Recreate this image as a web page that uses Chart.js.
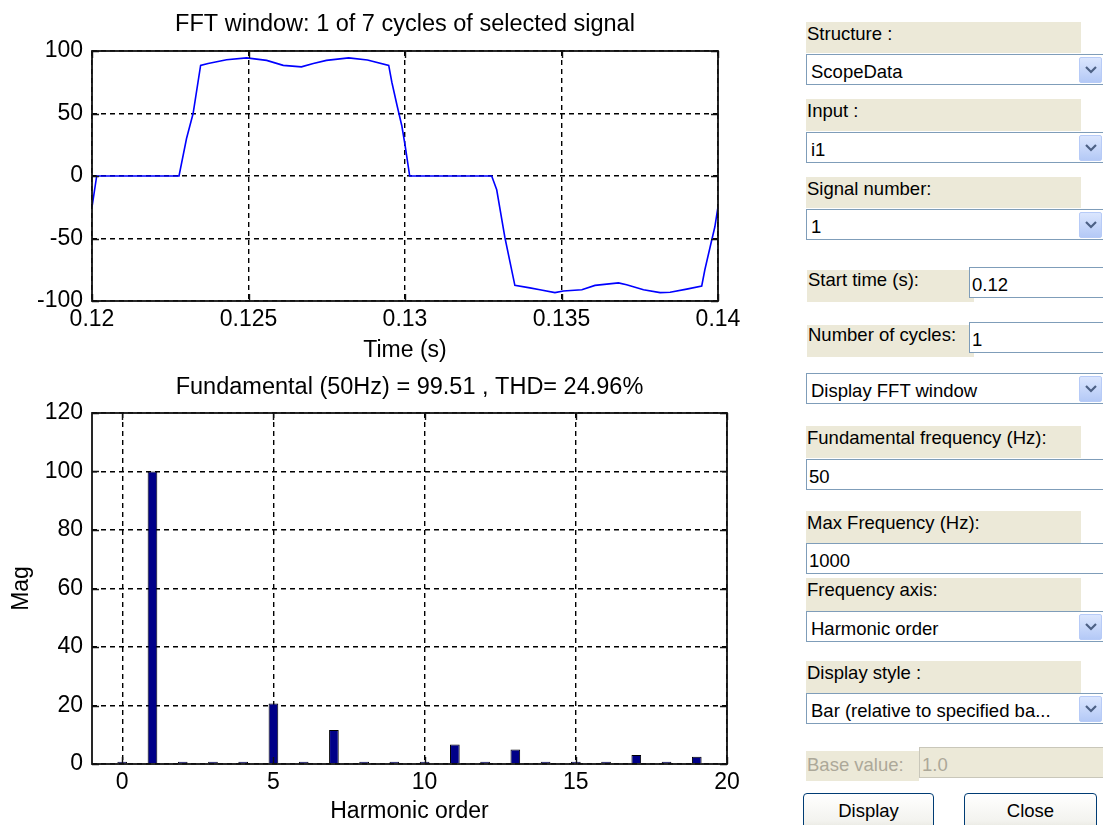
<!DOCTYPE html>
<html>
<head>
<meta charset="utf-8">
<title>FFT Analysis</title>
<script src="https://cdn.jsdelivr.net/npm/chart.js@4.4.0/dist/chart.umd.min.js"></script>
<style>
  body { margin: 0; background: #fff; width: 1103px; height: 825px; overflow: hidden; position: relative;
         font-family: "Liberation Sans", Arial, sans-serif; }
  #sig { position: absolute; left: 0; top: 0; }
  #fft { position: absolute; left: 0; top: 370px; }
  .lbl { position: absolute; background: #ece9d8; font-size: 18.5px; line-height: 20px; color: #000;
         padding: 2px 0 0 1px; box-sizing: border-box; white-space: nowrap; }
  .edit, .combo { position: absolute; background: #fff; border: 1px solid #7f9db9; box-sizing: border-box;
         font-size: 18.5px; line-height: 20px; white-space: nowrap; }
  .combo { padding: 7px 0 0 4px; }
  .edit { padding: 7px 0 0 2px; }
  .dd { position: absolute; left: 272px; top: 2px; width: 23px; height: 26px; border-radius: 2px;
        background: linear-gradient(#dbe6fe, #b4c9f6); border: 1px solid #b7cbf7; box-sizing: border-box; }
  .dd svg { position: absolute; left: 5px; top: 8px; }
  .off { color: #aca899; }
  .btn { position: absolute; height: 40px; border: 1px solid #003c74; border-radius: 4px; box-sizing: border-box;
         background: linear-gradient(#ffffff, #f3f3ef 70%, #e3e2da); font-size: 18.5px; text-align: center;
         line-height: 34px; }
</style>
</head>
<body>
<canvas id="sig" width="760" height="370"></canvas>
<canvas id="fft" width="760" height="455"></canvas>

<div class="lbl" style="left:806px;top:22px;width:275px;height:31px">Structure :</div>
<div class="combo" style="left:806px;top:54px;width:310px;height:31px">ScopeData<div class="dd"><svg width="12" height="8"><polyline points="1,1 6,6 11,1" fill="none" stroke="#4d6185" stroke-width="2.2"/></svg></div></div>
<div class="lbl" style="left:806px;top:99px;width:275px;height:32px">Input :</div>
<div class="combo" style="left:806px;top:132px;width:310px;height:31px">i1<div class="dd"><svg width="12" height="8"><polyline points="1,1 6,6 11,1" fill="none" stroke="#4d6185" stroke-width="2.2"/></svg></div></div>
<div class="lbl" style="left:806px;top:177px;width:275px;height:31px">Signal number:</div>
<div class="combo" style="left:806px;top:209px;width:310px;height:31px">1<div class="dd"><svg width="12" height="8"><polyline points="1,1 6,6 11,1" fill="none" stroke="#4d6185" stroke-width="2.2"/></svg></div></div>

<div class="lbl" style="left:807px;top:270px;width:167px;height:32px;padding-top:0">Start time (s):</div>
<div class="edit" style="left:969px;top:267px;width:140px;height:31px">0.12</div>
<div class="lbl" style="left:807px;top:325px;width:167px;height:32px;padding-top:0">Number of cycles:</div>
<div class="edit" style="left:969px;top:322px;width:140px;height:31px">1</div>
<div class="combo" style="left:806px;top:373px;width:310px;height:31px">Display FFT window<div class="dd"><svg width="12" height="8"><polyline points="1,1 6,6 11,1" fill="none" stroke="#4d6185" stroke-width="2.2"/></svg></div></div>

<div class="lbl" style="left:806px;top:426px;width:275px;height:32px">Fundamental frequency (Hz):</div>
<div class="edit" style="left:806px;top:459px;width:310px;height:31px">50</div>
<div class="lbl" style="left:806px;top:511px;width:275px;height:32px">Max Frequency (Hz):</div>
<div class="edit" style="left:806px;top:543px;width:310px;height:31px">1000</div>
<div class="lbl" style="left:806px;top:578px;width:275px;height:33px">Frequency axis:</div>
<div class="combo" style="left:806px;top:611px;width:310px;height:31px">Harmonic order<div class="dd"><svg width="12" height="8"><polyline points="1,1 6,6 11,1" fill="none" stroke="#4d6185" stroke-width="2.2"/></svg></div></div>
<div class="lbl" style="left:806px;top:661px;width:275px;height:32px">Display style :</div>
<div class="combo" style="left:806px;top:693px;width:310px;height:31px">Bar (relative to specified ba...<div class="dd"><svg width="12" height="8"><polyline points="1,1 6,6 11,1" fill="none" stroke="#4d6185" stroke-width="2.2"/></svg></div></div>

<div class="lbl off" style="left:806px;top:751px;width:113px;height:30px;padding-top:4px">Base value:</div>
<div class="edit off" style="left:919px;top:747px;width:200px;height:31px;background:#ece9d8;border-color:#c9c7ba">1.0</div>
<div class="btn" style="left:803px;top:793px;width:131px">Display</div>
<div class="btn" style="left:964px;top:793px;width:133px">Close</div>

<script>
// one cycle of the selected signal (FFT window)
const sampleTime = [0.1200, 0.12015, 0.12278, 0.12302, 0.12323, 0.12347, 0.12371, 0.1243, 0.12494, 0.12558,
  0.12611, 0.12669, 0.12707, 0.12749, 0.1282, 0.1288, 0.12948, 0.12958, 0.12975, 0.1299,
  0.1300, 0.13015, 0.13277, 0.13293, 0.13319, 0.13351, 0.13399, 0.13431, 0.13479, 0.13506,
  0.13565, 0.13607, 0.13682, 0.13708, 0.13762, 0.13815, 0.13847, 0.1390, 0.13948, 0.13958,
  0.13975, 0.1399, 0.1400]
const current = [-25, 0, 0, 30, 50, 88.5, 90, 93, 94.5, 92.5,
  88.5, 87.3, 90, 92.5, 94.5, 92.8, 88.5, 75, 56, 40,
  25, 0, 0, -11, -49, -87.5, -89.5, -91, -93.3, -92,
  -91, -87.5, -85.5, -87, -91, -93.3, -93, -90.5, -88, -75,
  -56.6, -40.6, -24.6]
const timeTicks = [0.12, 0.125, 0.13, 0.135, 0.14]
const currentTicks = [-100, -50, 0, 50, 100]

// harmonic spectrum (% of fundamental)
const harmonicOrder = [0, 1, 2, 3, 4, 5, 6, 7, 8, 9, 10, 11, 12, 13, 14, 15, 16, 17, 18, 19]
const harmonicMag = [0.8, 100, 0.8, 0.8, 0.8, 20.7, 0.8, 11.6, 0.8, 0.8, 0.8, 6.7, 0.8, 5.0, 0.8, 0.8, 0.8, 3.1, 0.8, 2.5]
const orderTicks = [0, 5, 10, 15, 20]
const magTicks = [0, 20, 40, 60, 80, 100, 120]

Chart.defaults.font.family = '"Liberation Sans", Arial, sans-serif'
Chart.defaults.font.size = 23
Chart.defaults.color = '#000'

// matlab-ish box, inward ticks and a title centred on the axes
const matlabFrame = {
  id: 'matlabFrame',
  afterDraw(chart, args, opts) {
    const { ctx, chartArea: a } = chart
    const xs = chart.scales.x, ys = chart.scales.y
    ctx.save()
    ctx.setLineDash([])
    ctx.strokeStyle = '#111'
    ctx.lineWidth = 1.4
    ctx.beginPath()
    xs.ticks.forEach(t => {
      const p = Math.round(xs.getPixelForValue(t.value)) + 0.5
      ctx.moveTo(p, a.bottom); ctx.lineTo(p, a.bottom - 7)
      ctx.moveTo(p, a.top); ctx.lineTo(p, a.top + 7)
    })
    ys.ticks.forEach(t => {
      const p = Math.round(ys.getPixelForValue(t.value)) + 0.5
      ctx.moveTo(a.left, p); ctx.lineTo(a.left + 7, p)
      ctx.moveTo(a.right, p); ctx.lineTo(a.right - 7, p)
    })
    ctx.stroke()
    ctx.lineWidth = 1.8
    ctx.strokeRect(a.left, a.top, a.right - a.left, a.bottom - a.top)
    ctx.fillStyle = '#000'
    ctx.font = '23.5px "Liberation Sans", Arial, sans-serif'
    ctx.textAlign = 'center'
    ctx.textBaseline = 'alphabetic'
    ctx.fillText(opts.text, (a.left + a.right) / 2, opts.baseline)
    ctx.restore()
  }
}

function axis(ticks, width, height, title, titlePad) {
  return {
    type: 'linear',
    offset: false,
    min: ticks[0],
    max: ticks[ticks.length - 1],
    afterBuildTicks: s => { s.ticks = ticks.map(v => ({ value: v })) },
    afterFit: s => {
      if (width) s.width = width
      if (height) s.height = height
    },
    ticks: { padding: width ? 9 : 5, autoSkip: false, maxRotation: 0, callback: v => String(v) },
    grid: { color: '#000', lineWidth: 1.4, drawTicks: false, offset: false },
    border: { display: false, dash: [5, 4] },
    title: { display: !!title, text: title, padding: titlePad }
  }
}

new Chart(document.getElementById('sig'), {
  type: 'line',
  data: {
    datasets: [{
      data: sampleTime.map((t, i) => ({ x: t, y: current[i] })),
      borderColor: '#0000ff',
      borderWidth: 1.6,
      pointRadius: 0,
      tension: 0
    }]
  },
  options: {
    responsive: false,
    animation: false,
    layout: { padding: { top: 51, right: 42, left: 0, bottom: 0 } },
    plugins: {
      legend: { display: false },
      tooltip: { enabled: false },
      matlabFrame: { text: 'FFT window: 1 of 7 cycles of selected signal', baseline: 31 }
    },
    scales: {
      x: axis(timeTicks, 0, 69, 'Time (s)', { top: 0, bottom: 6 }),
      y: axis(currentTicks, 92, 0, '', 0)
    }
  },
  plugins: [matlabFrame]
})

new Chart(document.getElementById('fft'), {
  type: 'bar',
  data: {
    datasets: [{
      data: harmonicOrder.map((h, i) => ({ x: h, y: harmonicMag[i] })),
      backgroundColor: '#000088',
      borderColor: '#000',
      borderWidth: 1,
      categoryPercentage: 1,
      barPercentage: 0.32
    }]
  },
  options: {
    responsive: false,
    animation: false,
    layout: { padding: { top: 43, right: 33, left: 0, bottom: 0 } },
    plugins: {
      legend: { display: false },
      tooltip: { enabled: false },
      matlabFrame: { text: 'Fundamental (50Hz) = 99.51 , THD= 24.96%', baseline: 24 }
    },
    scales: {
      x: Object.assign(axis(orderTicks, 0, 61, 'Harmonic order', { top: 0, bottom: 0 }), { min: -1 }),
      y: axis(magTicks, 92, 0, 'Mag', { top: 8, bottom: 0 })
    }
  },
  plugins: [matlabFrame]
})
</script>
</body>
</html>
